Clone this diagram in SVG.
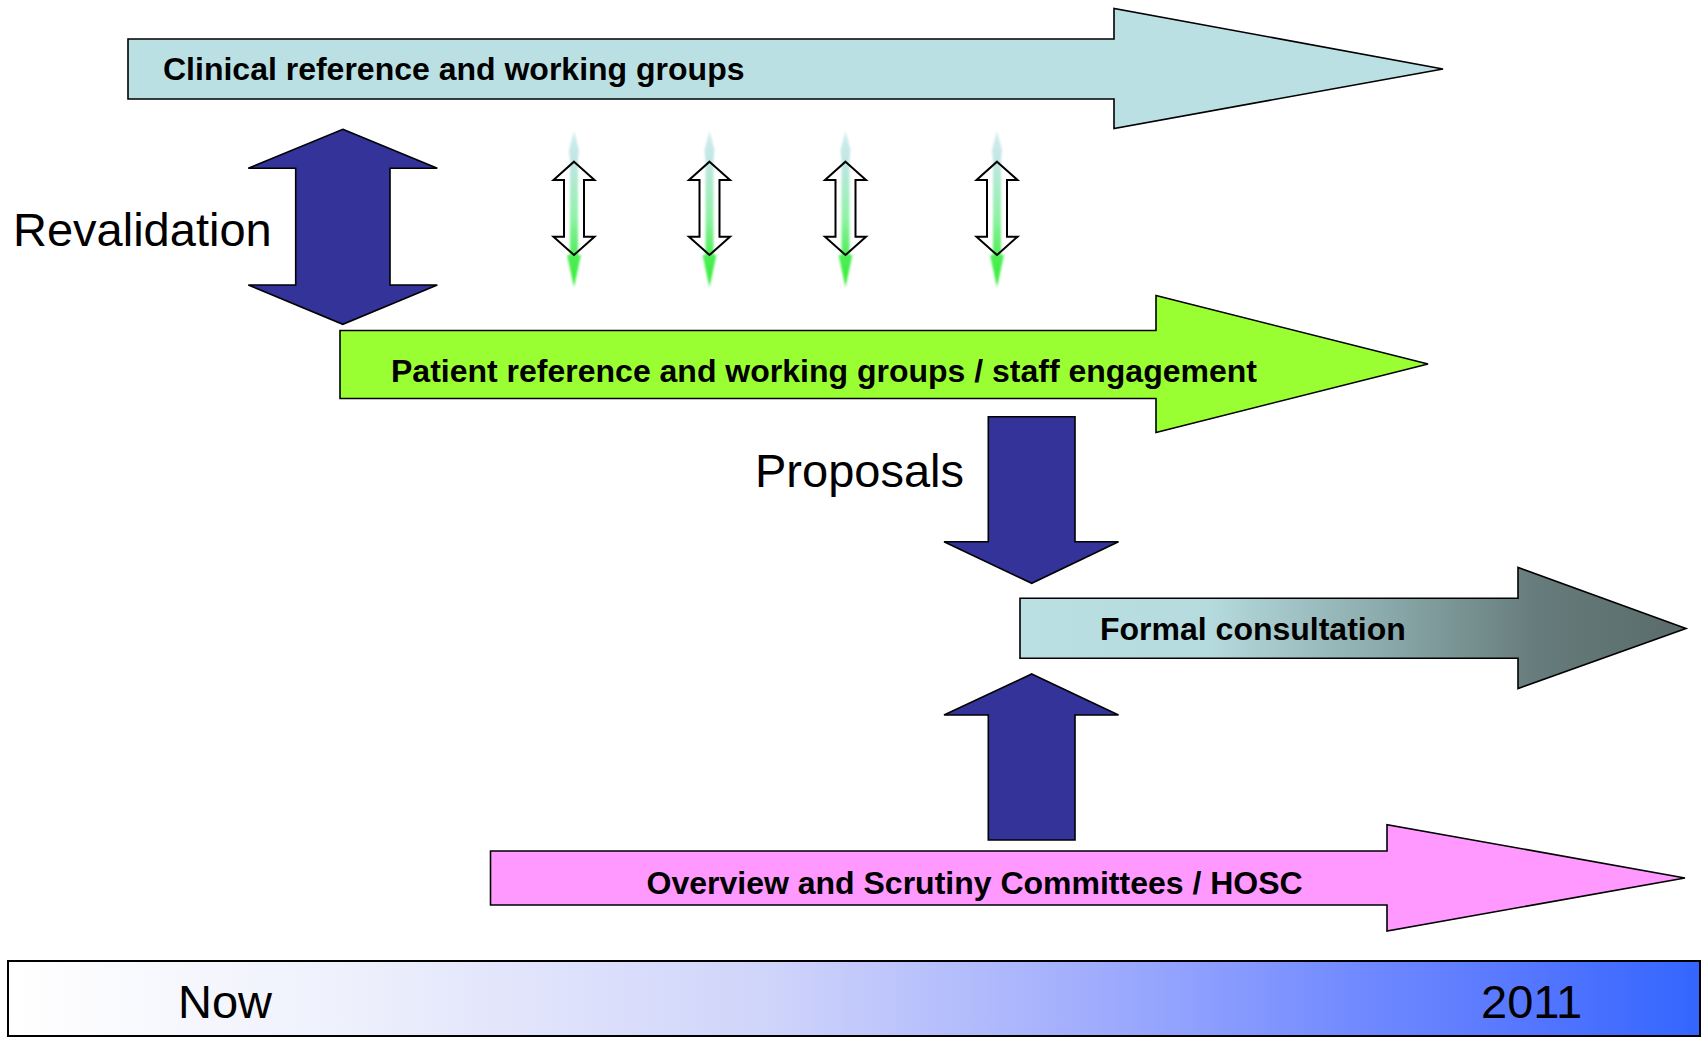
<svg xmlns="http://www.w3.org/2000/svg" width="1708" height="1037" viewBox="0 0 1708 1037">
  <style>
    .shape { stroke: #000; stroke-width: 1.6; stroke-linejoin: miter; }
    .navy { fill: #333399; }
    .label { font-family: "Liberation Sans", Arial, sans-serif; font-weight: bold; font-size: 32px; fill: #000; }
    .caption { font-family: "Liberation Sans", Arial, sans-serif; font-size: 47px; fill: #000; }
    .outline { fill: none; stroke: #000; stroke-width: 2; stroke-linejoin: miter; }
  </style>
  <defs>
    <linearGradient id="timeline" x1="0" y1="0" x2="1" y2="0">
      <stop offset="0" stop-color="#FFFFFF"/>
      <stop offset="0.2" stop-color="#EEF0FC"/>
      <stop offset="0.45" stop-color="#CFD4FA"/>
      <stop offset="0.65" stop-color="#9EABFD"/>
      <stop offset="0.8" stop-color="#7089FF"/>
      <stop offset="0.9" stop-color="#5576FF"/>
      <stop offset="1" stop-color="#3366FF"/>
    </linearGradient>
    <linearGradient id="formal" x1="0" y1="0" x2="1" y2="0">
      <stop offset="0" stop-color="#BBE0E3"/>
      <stop offset="0.28" stop-color="#B6DBDE"/>
      <stop offset="0.55" stop-color="#8AA9AA"/>
      <stop offset="0.78" stop-color="#667B7B"/>
      <stop offset="1" stop-color="#5A6B6B"/>
    </linearGradient>
    <linearGradient id="glow" x1="0" y1="0" x2="0" y2="1">
      <stop offset="0" stop-color="#D2ECEC"/>
      <stop offset="0.2" stop-color="#BFE6E3"/>
      <stop offset="0.55" stop-color="#92F2A8"/>
      <stop offset="0.8" stop-color="#4FEE58"/>
      <stop offset="1" stop-color="#33EE33"/>
    </linearGradient>
    <filter id="soft" x="-50%" y="-10%" width="200%" height="120%">
      <feGaussianBlur stdDeviation="0.9"/>
    </filter>
    <!-- small two-way link: soft green streak behind a hollow double arrow -->
    <g id="link">
      <path d="M0,131 L5,150 L4,160 L4,255 L7,255 L0,287 L-7,255 L-4,255 L-4,160 L-5,150 Z" fill="url(#glow)" filter="url(#soft)"/>
      <path class="outline" d="M0,161.7 L20.5,180 L10,180 L10,236.7 L20.5,236.7 L0,255 L-20.5,236.7 L-10,236.7 L-10,180 L-20.5,180 Z"/>
    </g>
  </defs>

  <rect width="1708" height="1037" fill="#FFFFFF"/>

  <!-- workstream arrows -->
  <g id="clinical">
    <path class="shape" fill="#BBE0E3" d="M128,39 L1114,39 L1114,8.5 L1443,69 L1114,128.5 L1114,99 L128,99 Z"/>
    <text class="label" x="163" y="80">Clinical reference and working groups</text>
  </g>

  <g id="patient">
    <path class="shape" fill="#99FF33" d="M340,330.5 L1156,330.5 L1156,295.5 L1428,364 L1156,432.5 L1156,398.5 L340,398.5 Z"/>
    <text class="label" x="391" y="381.5">Patient reference and working groups / staff engagement</text>
  </g>

  <g id="formal-consultation">
    <path class="shape" fill="url(#formal)" d="M1020,598.3 L1518,598.3 L1518,567.5 L1686,628.5 L1518,688.5 L1518,658.3 L1020,658.3 Z"/>
    <text class="label" x="1100" y="640">Formal consultation</text>
  </g>

  <g id="hosc">
    <path class="shape" fill="#FF99FF" d="M490.5,851 L1387,851 L1387,824.6 L1685,878 L1387,931 L1387,905 L490.5,905 Z"/>
    <text class="label" x="646.5" y="894">Overview and Scrutiny Committees / HOSC</text>
  </g>

  <!-- links between workstreams -->
  <g id="connectors">
    <g id="revalidation">
      <path class="shape navy" d="M342.8,129.3 L437.3,168.3 L390,168.3 L390,285 L437.3,285 L342.8,324.3 L248.3,285 L295.7,285 L295.7,168.3 L248.3,168.3 Z"/>
      <text class="caption" x="13" y="246">Revalidation</text>
    </g>
    <g id="link-1"><use href="#link" x="574"/></g>
    <g id="link-2"><use href="#link" x="709.5"/></g>
    <g id="link-3"><use href="#link" x="845.5"/></g>
    <g id="link-4"><use href="#link" x="997"/></g>
    <g id="proposals">
      <path class="shape navy" d="M988.3,416.7 L1075,416.7 L1075,541.7 L1118.5,541.7 L1031.7,583.3 L944,541.7 L988.3,541.7 Z"/>
      <text class="caption" x="755" y="486.7">Proposals</text>
    </g>
    <g id="scrutiny-input">
      <path class="shape navy" d="M1031.7,674 L1118.5,715 L1075,715 L1075,840 L988.3,840 L988.3,715 L944,715 Z"/>
    </g>
  </g>

  <!-- timeline -->
  <g id="timeline-bar">
    <rect x="8" y="961" width="1692" height="75" fill="url(#timeline)" stroke="#000" stroke-width="2"/>
    <text class="caption" x="178" y="1018">Now</text>
    <text class="caption" x="1481" y="1018">2011</text>
  </g>
</svg>
